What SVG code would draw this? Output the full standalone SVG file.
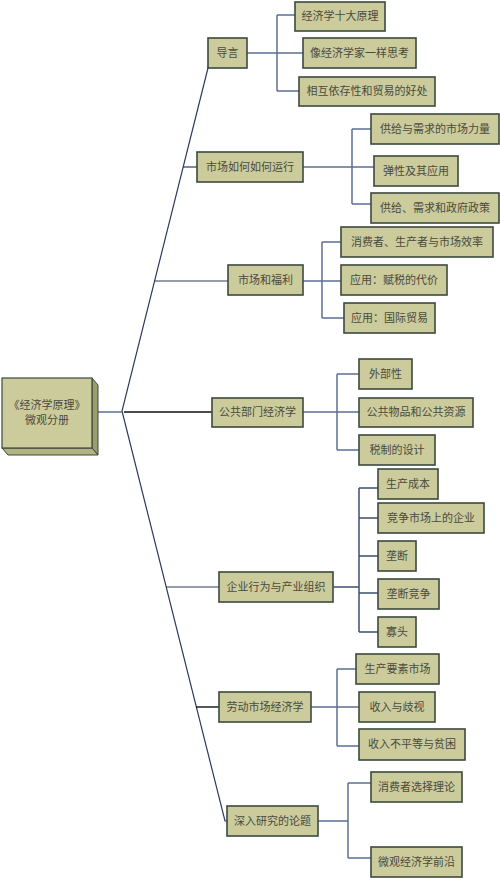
<svg xmlns="http://www.w3.org/2000/svg" width="500" height="878" viewBox="0 0 500 878">
<style>
.box{fill:#cbcb9c;stroke:#3b4a3c;stroke-width:1.6}
.t{font-family:"Noto Sans CJK SC","Noto Sans",sans-serif;font-size:11px;fill:#4a4a3c;text-anchor:middle}
.ln{fill:none;stroke:#5d6f93;stroke-width:1.5}
.tr{fill:none;stroke:#2d3a5c;stroke-width:1.2}
</style>
<rect width="500" height="878" fill="#ffffff"/>
<g id="connectors">
<polyline class="tr" points="211,56 122,411 225,821 227,821"/>
<line class="ln" x1="98" y1="412" x2="122" y2="412"/>
<line class="tr" x1="183" y1="167" x2="197" y2="167"/>
<line class="tr" x1="155" y1="281" x2="228" y2="281"/>
<line x1="124" y1="412" x2="212" y2="412" stroke="#111" stroke-width="1.6"/>
<line class="tr" x1="166" y1="587" x2="219" y2="587"/>
<line x1="196" y1="707" x2="219" y2="707" stroke="#111" stroke-width="1.4"/>
<path class="ln" d="M247,53H303M277,15V91M277,15H295M277,91H299"/>
<path class="ln" d="M303,167H374M352,129V204M352,129H371M352,204H371"/>
<path class="ln" d="M303,281H341M322,242V318M322,242H341M322,318H344"/>
<path class="ln" d="M303,412H359M337,374V450M337,374H359M337,450H359"/>
<path class="ln" style="stroke:#3f4f72" d="M333,587H359M359,488V632M359,488H378M359,518H378M359,556H378M359,593H378M359,632H378"/>
<path class="ln" d="M311,707H359M337,669V746M337,669H356M337,746H359"/>
<path class="ln" d="M318,821H348M348,783V858M348,783H371M348,858H371"/>
</g>
<g id="root">
<polygon points="92,378 98,385 98,455 92,448" fill="#9c9c6c" stroke="#3b4a3c" stroke-width="1"/>
<polygon points="2,448 92,448 98,455 8,455" fill="#b2b282" stroke="#3b4a3c" stroke-width="1"/>
<rect x="2" y="378" width="90" height="70" fill="#cbcb9c" stroke="#3b4a3c" stroke-width="1.2"/>
<text class="t" x="47" y="409">《经济学原理》</text>
<text class="t" x="47" y="424">微观分册</text>
</g>
<g id="c1"><rect class="box" x="208" y="38" width="39" height="30"/><text class="t" x="227.5" y="57">导言</text></g>
<g id="c2"><rect class="box" x="197" y="152" width="106" height="30"/><text class="t" x="250" y="171">市场如何如何运行</text></g>
<g id="c3"><rect class="box" x="228" y="265" width="75" height="30"/><text class="t" x="265.5" y="284">市场和福利</text></g>
<g id="c4"><rect class="box" x="212" y="398" width="91" height="29"/><text class="t" x="257.5" y="416">公共部门经济学</text></g>
<g id="c5"><rect class="box" x="219" y="572" width="114" height="30"/><text class="t" x="276" y="591">企业行为与产业组织</text></g>
<g id="c6"><rect class="box" x="219" y="692" width="92" height="30"/><text class="t" x="265" y="711">劳动市场经济学</text></g>
<g id="c7"><rect class="box" x="227" y="806" width="91" height="30"/><text class="t" x="272.5" y="825">深入研究的论题</text></g>
<g id="l1a"><rect class="box" x="295" y="2" width="90" height="29"/><text class="t" x="340" y="20">经济学十大原理</text></g>
<g id="l1b"><rect class="box" x="303" y="38" width="113" height="30"/><text class="t" x="359.5" y="57">像经济学家一样思考</text></g>
<g id="l1c"><rect class="box" x="299" y="77" width="136" height="29"/><text class="t" x="367" y="95">相互依存性和贸易的好处</text></g>
<g id="l2a"><rect class="box" x="371" y="114" width="128" height="30"/><text class="t" x="435" y="133">供给与需求的市场力量</text></g>
<g id="l2b"><rect class="box" x="374" y="156" width="84" height="30"/><text class="t" x="416" y="175">弹性及其应用</text></g>
<g id="l2c"><rect class="box" x="371" y="193" width="128" height="30"/><text class="t" x="435" y="212">供给、需求和政府政策</text></g>
<g id="l3a"><rect class="box" x="341" y="227" width="152" height="30"/><text class="t" x="417" y="246">消费者、生产者与市场效率</text></g>
<g id="l3b"><rect class="box" x="341" y="265" width="106" height="30"/><text class="t" x="394" y="284">应用：赋税的代价</text></g>
<g id="l3c"><rect class="box" x="344" y="303" width="91" height="30"/><text class="t" x="389.5" y="322">应用：国际贸易</text></g>
<g id="l4a"><rect class="box" x="359" y="359" width="53" height="30"/><text class="t" x="385.5" y="378">外部性</text></g>
<g id="l4b"><rect class="box" x="359" y="398" width="114" height="29"/><text class="t" x="416" y="416">公共物品和公共资源</text></g>
<g id="l4c"><rect class="box" x="359" y="435" width="76" height="30"/><text class="t" x="397" y="454">税制的设计</text></g>
<g id="l5a"><rect class="box" x="378" y="469" width="60" height="30"/><text class="t" x="408" y="488">生产成本</text></g>
<g id="l5b"><rect class="box" x="378" y="503" width="106" height="30"/><text class="t" x="431" y="522">竞争市场上的企业</text></g>
<g id="l5c"><rect class="box" x="378" y="541" width="38" height="30"/><text class="t" x="397" y="560">垄断</text></g>
<g id="l5d"><rect class="box" x="378" y="579" width="61" height="30"/><text class="t" x="408.5" y="598">垄断竞争</text></g>
<g id="l5e"><rect class="box" x="378" y="617" width="38" height="30"/><text class="t" x="397" y="636">寡头</text></g>
<g id="l6a"><rect class="box" x="356" y="654" width="83" height="30"/><text class="t" x="397.5" y="673">生产要素市场</text></g>
<g id="l6b"><rect class="box" x="359" y="692" width="76" height="30"/><text class="t" x="397" y="711">收入与歧视</text></g>
<g id="l6c"><rect class="box" x="359" y="729" width="106" height="31"/><text class="t" x="412" y="748">收入不平等与贫困</text></g>
<g id="l7a"><rect class="box" x="371" y="772" width="91" height="30"/><text class="t" x="416.5" y="791">消费者选择理论</text></g>
<g id="l7b"><rect class="box" x="371" y="847" width="91" height="30"/><text class="t" x="416.5" y="866">微观经济学前沿</text></g>
</svg>
